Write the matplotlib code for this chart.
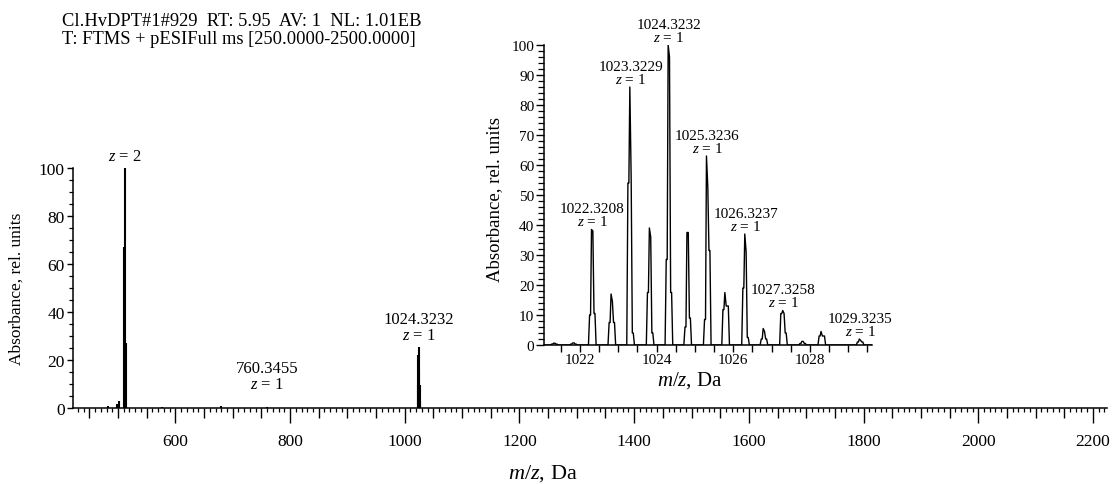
import matplotlib
matplotlib.use('Agg')
import matplotlib.pyplot as plt
from matplotlib.ticker import MultipleLocator, FuncFormatter

plt.rcParams['font.family'] = ['Liberation Serif', 'DejaVu Serif']
plt.rcParams['mathtext.fontset'] = 'custom'
plt.rcParams['mathtext.rm'] = 'Liberation Serif'
plt.rcParams['mathtext.it'] = 'Liberation Serif:italic'

# full scan, stick peaks (m/z, rel. intensity)
main_mz = [483, 499, 501, 511.0, 512.0, 513.5, 577, 680, 759,
           1022.3, 1023.3, 1024.3, 1025.3, 1026.3, 1027.3]
main_int = [1.0, 1.5, 3.0, 67, 100, 27, 0.5, 1.0, 0.5,
            9.5, 22, 25.5, 16, 9.4, 3]
main_labels = [(512.0, 100, '$z$ = 2'),
               (760.3455, 5, '760.3455\n$z$ = 1'),
               (1024.3232, 25.5, '1024.3232\n$z$ = 1')]

# zoomed isotope cluster, profile peaks
inset_mz = [1021.33, 1021.83, 1022.32, 1022.83, 1023.32, 1023.83, 1024.32,
            1024.81, 1025.32, 1025.80, 1026.32, 1026.80, 1027.31, 1027.81,
            1028.31, 1029.31]
inset_top = [0.6, 0.7, 38.5, 17, 86, 39, 100, 37.5, 63, 17.5, 37, 5.5, 11.5,
             1.2, 4.5, 2]
inset_top2 = [0.6, 0.7, 38, 14.5, 55.5, 36, 96, 37.5, 52.5, 13, 31, 4.5, 10.5,
              1.2, 3, 1.5]
inset_lsh = [0.3, 0.3, 10, 7.5, 54, 17.5, 28.5, 6, 8.5, 11.8, 19, 2, 10.5,
             0.5, 3, 1]
inset_rsh = [0.3, 0.3, 10.5, 7.5, 4, 4, 17.5, 9, 31.5, 13, 2.5, 2, 4, 0.5,
             3, 1]
inset_labels = ['', '', '1022.3208', '', '1023.3229', '', '1024.3232', '',
                '1025.3236', '', '1026.3237', '', '1027.3258', '', '',
                '1029.3235']

fig = plt.figure(figsize=(11.16, 4.85), dpi=100)

# ---- main spectrum
ax = fig.add_axes([73 / 1116, 76 / 485, 1034 / 1116, 240 / 485])
ax.vlines(main_mz, 0, main_int, color='black', lw=1.5)
ax.set_xlim(421.5, 2224.5)
ax.set_ylim(0, 100)
for s in ['top', 'right']:
    ax.spines[s].set_visible(False)
for s in ['left', 'bottom']:
    ax.spines[s].set_linewidth(1.1)
ax.xaxis.set_major_locator(MultipleLocator(50))
ax.xaxis.set_minor_locator(MultipleLocator(10))
ax.xaxis.set_major_formatter(FuncFormatter(
    lambda v, p: '%d' % v if round(v) % 200 == 0 else ''))
ax.yaxis.set_major_locator(MultipleLocator(20))
ax.yaxis.set_minor_locator(MultipleLocator(5))
ax.tick_params(axis='x', which='major', length=7, width=1.0, pad=11,
               labelsize=12.5)
ax.tick_params(axis='x', which='minor', length=3, width=0.9)
ax.tick_params(axis='y', which='major', length=4.5, width=1.0, pad=1.5,
               labelsize=12.5)
ax.tick_params(axis='y', which='minor', length=3, width=0.9)
fig.canvas.draw()
for t in ax.xaxis.get_major_ticks():
    if round(t.get_loc()) % 200 == 0:
        t.tick1line.set_markersize(11)
ax.set_xlabel('$m/z$, Da', fontsize=16)
ax.xaxis.set_label_coords(0.454, -0.225)
ax.set_ylabel('Absorbance, rel. units', fontsize=12.5)
ax.yaxis.set_label_coords(-0.047, 0.5)
for x, y, s in main_labels:
    ax.annotate(s, (x, y), xytext=(0, 3), textcoords='offset points',
                ha='center', va='bottom', fontsize=12, linespacing=0.95)

# ---- inset: isotope cluster
ins = fig.add_axes([544 / 1116, 139 / 485, 328 / 1116, 300 / 485])
px, py = [1021.06], [0]
for c, t, t2, l, r in zip(inset_mz, inset_top, inset_top2, inset_lsh, inset_rsh):
    px += [c - 0.10, c - 0.07, c - 0.045, c - 0.02, c + 0.015, c + 0.045,
           c + 0.07, c + 0.10]
    py += [0, l, l, t, t2, r, r, 0]
px.append(1029.62)
py.append(0)
ins.plot(px, py, color='black', lw=1.0)
ins.set_xlim(1021.06, 1029.62)
ins.set_ylim(0, 100)
for s in ['top', 'right']:
    ins.spines[s].set_visible(False)
for s in ['left', 'bottom']:
    ins.spines[s].set_linewidth(1.1)
ins.xaxis.set_major_locator(MultipleLocator(2))
ins.xaxis.set_minor_locator(MultipleLocator(0.5))
ins.yaxis.set_major_locator(MultipleLocator(10))
ins.yaxis.set_minor_locator(MultipleLocator(2))
ins.tick_params(axis='x', which='major', length=5, width=1.0, pad=1,
                labelsize=11)
ins.tick_params(axis='x', which='minor', length=5, width=1.0)
ins.tick_params(axis='y', which='major', length=6, width=1.0, pad=1,
                labelsize=11)
ins.tick_params(axis='y', which='minor', length=4, width=0.9)
ins.set_xlabel('$m/z$, Da', fontsize=15)
ins.xaxis.set_label_coords(0.445, -0.08)
ins.set_ylabel('Absorbance, rel. units', fontsize=13.5)
ins.yaxis.set_label_coords(-0.125, 0.487)
for c, t, s in zip(inset_mz, inset_top, inset_labels):
    if s:
        ins.annotate(s + '\n$z$ = 1', (c, t), xytext=(0, 1),
                     textcoords='offset points', ha='center', va='bottom',
                     fontsize=11, linespacing=0.9)

fig.text(62 / 1116, 1 - 22 / 485,
         'Cl.HvDPT#1#929  RT: 5.95  AV: 1  NL: 1.01EB', fontsize=13.3,
         va='center')
fig.text(62 / 1116, 1 - 40 / 485,
         'T: FTMS + pESIFull ms [250.0000-2500.0000]', fontsize=13.3,
         va='center')

fig.savefig('out.png', dpi=100)
